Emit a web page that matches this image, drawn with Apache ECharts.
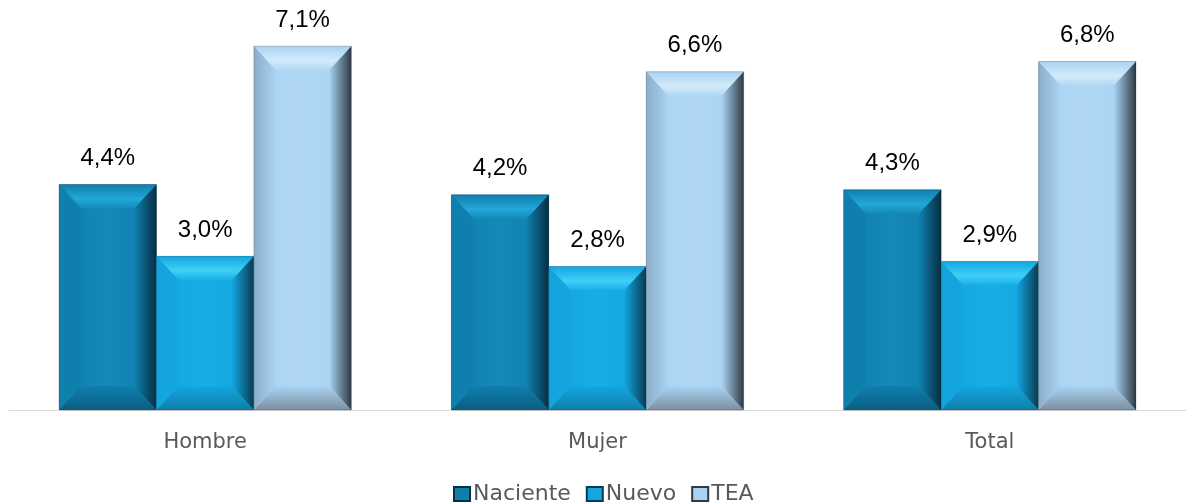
<!DOCTYPE html>
<html>
<head>
<meta charset="utf-8">
<script src="https://cdn.jsdelivr.net/npm/echarts@6/dist/echarts.min.js"></script>
<style>html,body{margin:0;padding:0;background:#fff}#c{width:1186px;height:504px}</style>
</head>
<body>
<div id="c"></div>
<script>
const categories = ['Hombre', 'Mujer', 'Total'];
const seriesNames = ['Naciente', 'Nuevo', 'TEA'];
const naciente = [4.4, 4.2, 4.3];
const nuevo = [3.0, 2.8, 2.9];
const tea = [7.1, 6.6, 6.8];
const seriesValues = [naciente, nuevo, tea];

const palettes = [
  {face: '#0f7fae', faceL: '#1589b8', top: '#22a8d8', bottom: '#0a5e80', left: '#0f80ae', right: '#062f42'},
  {face: '#14a6e0', faceL: '#18ade6', top: '#3fd0f8', bottom: '#0f7ea8', left: '#14a4dd', right: '#083b52'},
  {face: '#a9d3f3', faceL: '#b0d8f5', top: '#d3ebfa', bottom: '#7c8fa0', left: '#8cadc8', right: '#2f3a44'}
];

const chart = echarts.init(document.getElementById('c'));
const groupFrac = 1 - 0.255;

function makeRender(si) {
  const p = palettes[si];
  return function (params, api) {
    const ci = api.value(0);
    const v = api.value(1);
    const top = api.coord([ci, v]);
    const base = api.coord([ci, 0]);
    const band = api.size([1, 0])[0];
    const gw = band * groupFrac;
    const bw = gw / 3;
    const x0 = top[0] - gw / 2 + si * bw;
    const x1 = x0 + bw;
    const y0 = top[1];
    const y1 = base[1];
    const b = Math.min(24, (y1 - y0) / 2);
    const bx = Math.min(22, bw / 2);
    const children = [
      {type: 'rect', shape: {x: x0, y: y0, width: bw, height: y1 - y0},
       style: {fill: new echarts.graphic.LinearGradient(0, 0, 1, 0, [
         {offset: 0, color: p.face}, {offset: 0.5, color: p.faceL}, {offset: 1, color: p.face}])}},
      {type: 'polygon', shape: {points: [[x0, y0], [x1, y0], [x1 - bx, y0 + b], [x0 + bx, y0 + b]]},
       style: {fill: new echarts.graphic.LinearGradient(0, 0, 0, 1, [
         {offset: 0, color: p.face}, {offset: 0.6, color: p.top}, {offset: 1, color: p.faceL}])}},
      {type: 'polygon', shape: {points: [[x0, y1], [x1, y1], [x1 - bx, y1 - b], [x0 + bx, y1 - b]]},
       style: {fill: new echarts.graphic.LinearGradient(0, 0, 0, 1, [
         {offset: 0, color: p.face}, {offset: 1, color: p.bottom}])}},
      {type: 'polygon', shape: {points: [[x1, y0], [x1, y1], [x1 - bx, y1 - b], [x1 - bx, y0 + b]]},
       style: {fill: new echarts.graphic.LinearGradient(0, 0, 1, 0, [
         {offset: 0, color: p.face}, {offset: 1, color: p.right}])}},
      {type: 'polygon', shape: {points: [[x0, y0], [x0, y1], [x0 + bx, y1 - b], [x0 + bx, y0 + b]]},
       style: {fill: new echarts.graphic.LinearGradient(0, 0, 1, 0, [
         {offset: 0, color: p.left}, {offset: 1, color: p.face}])}},
      {type: 'rect', shape: {x: x0, y: y0, width: bw, height: y1 - y0},
       style: {fill: 'none', stroke: 'rgba(0,0,0,0.2)', lineWidth: 1}},
      {type: 'text', style: {
        text: v.toFixed(1).replace('.', ',') + '%', x: (x0 + x1) / 2, y: y0 - 14,
        align: 'center', verticalAlign: 'bottom', fill: '#000',
        font: '24px "Liberation Sans", Arial, sans-serif'}}
    ];
    return {type: 'group', children: children};
  };
}

const series = seriesNames.map((name, si) => ({
  name: name,
  type: 'custom',
  renderItem: makeRender(si),
  data: seriesValues[si].map((v, i) => [i, v]),
  encode: {x: 0, y: 1},
  itemStyle: {color: palettes[si].face, borderColor: palettes[si].right, borderWidth: 1},
  z: 2
}));

chart.setOption({
  animation: false,
  grid: {left: 9, right: 0, top: 0, bottom: 94},
  legend: {
    bottom: -6, left: 448, padding: 5, itemWidth: 16, itemHeight: 14, itemGap: 15,
    icon: 'rect',
    textStyle: {fontSize: 22, color: '#595959', fontFamily: '"DejaVu Sans", sans-serif', padding: [0, 0, 0, -2]},
    data: seriesNames
  },
  xAxis: {
    type: 'category', data: categories,
    axisLine: {lineStyle: {color: '#d9d9d9', width: 1}},
    axisTick: {show: false},
    axisLabel: {fontSize: 21, color: '#595959', margin: 22, fontFamily: '"DejaVu Sans", sans-serif'}
  },
  yAxis: {type: 'value', min: 0, max: 8, show: false, splitLine: {show: false}},
  series: series
});
</script>
</body>
</html>
